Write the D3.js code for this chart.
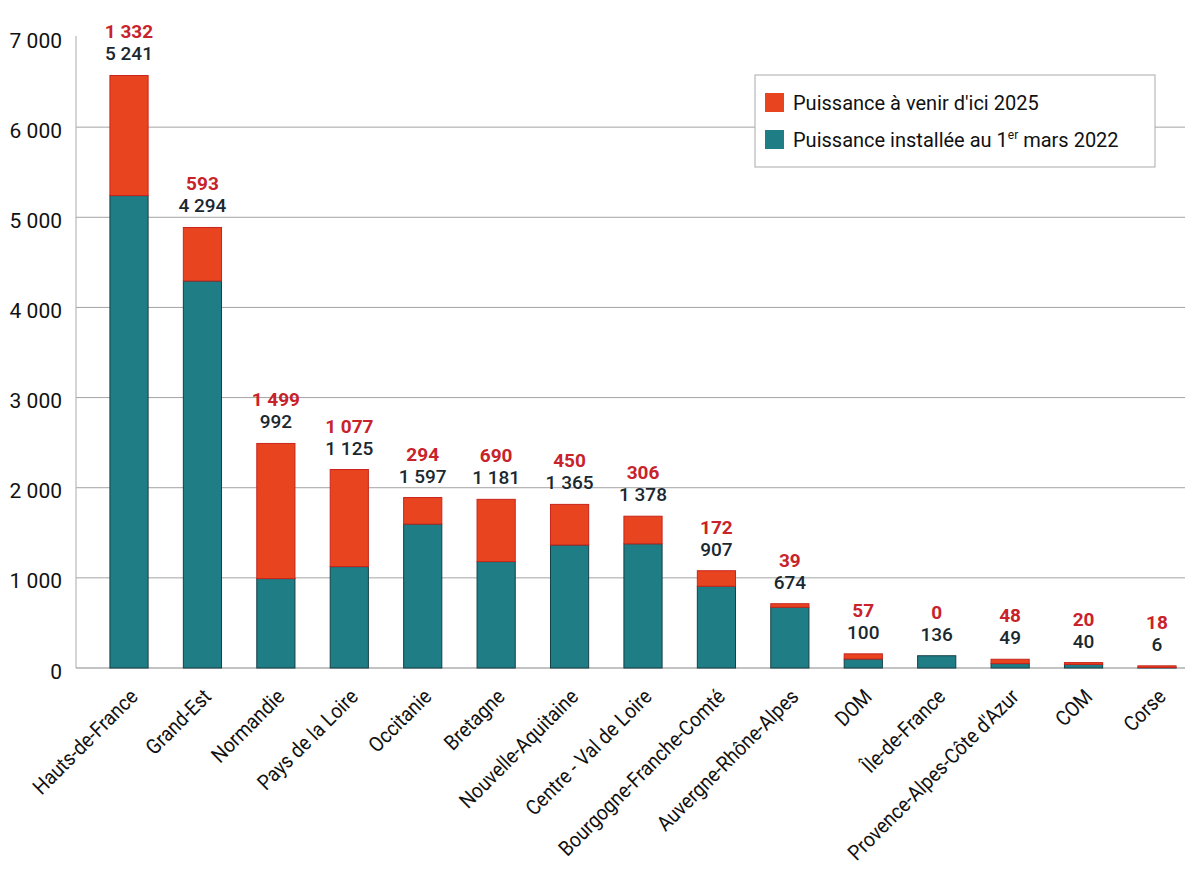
<!DOCTYPE html>
<html>
<head>
<meta charset="utf-8">
<script src="https://cdn.jsdelivr.net/npm/d3@7"></script>
<style>
  body { margin: 0; background: #fff; }
  svg text { font-family: Roboto, "Noto Sans", sans-serif; }
</style>
</head>
<body>
<div id="chart"></div>
<script>
// Data
const regions = ["Hauts-de-France", "Grand-Est", "Normandie", "Pays de la Loire", "Occitanie",
  "Bretagne", "Nouvelle-Aquitaine", "Centre - Val de Loire", "Bourgogne-Franche-Comté",
  "Auvergne-Rhône-Alpes", "DOM", "Île-de-France", "Provence-Alpes-Côte d'Azur", "COM", "Corse"];
const installed = [5241, 4294, 992, 1125, 1597, 1181, 1365, 1378, 907, 674, 100, 136, 49, 40, 6];
const upcoming = [1332, 593, 1499, 1077, 294, 690, 450, 306, 172, 39, 57, 0, 48, 20, 18];
const yTicks = [0, 1000, 2000, 3000, 4000, 5000, 6000, 7000];
const legendLabels = ["Puissance à venir d'ici 2025", "Puissance installée au 1", "er", " mars 2022"];

const width = 1185, height = 870;
const colRed = "#e8441f", colTeal = "#1f7d85";

const svg = d3.select("#chart").append("svg")
  .attr("width", width)
  .attr("height", height);

const fr = d3.formatLocale({ decimal: ",", thousands: "\u00a0", grouping: [3], currency: ["", " €"] });
const fmt = fr.format(",d");

// Scales
const x = d3.scaleBand()
  .domain(regions)
  .range([92.3, 1193.7])
  .paddingInner(0.48)
  .paddingOuter(0.24);

const y = d3.scaleLinear()
  .domain([0, 7000])
  .range([668, 37]);

// Gridlines
svg.append("g")
  .selectAll("line")
  .data(yTicks.filter(d => d > 0 && d < 7000))
  .enter()
  .append("line")
  .attr("x1", 76).attr("x2", width)
  .attr("y1", d => y(d)).attr("y2", d => y(d))
  .attr("stroke", "#a4a4a4")
  .attr("stroke-width", 1);

// Axis lines
svg.append("line")
  .attr("x1", 76).attr("x2", width)
  .attr("y1", y(0)).attr("y2", y(0))
  .attr("stroke", "#888").attr("stroke-width", 1.2);
svg.append("line")
  .attr("x1", 76).attr("x2", 76)
  .attr("y1", 36).attr("y2", y(0))
  .attr("stroke", "#aaa").attr("stroke-width", 1);

// Y tick labels
svg.append("g")
  .selectAll("text")
  .data(yTicks)
  .enter()
  .append("text")
  .attr("x", 62)
  .attr("y", d => y(d) + 3)
  .attr("dy", "0.36em")
  .attr("text-anchor", "end")
  .attr("font-size", 21)
  .attr("fill", "#111")
  .text(d => fmt(d));

// Bars
const bars = svg.append("g")
  .selectAll("g")
  .data(regions)
  .enter()
  .append("g");

bars.append("rect")
  .attr("x", d => x(d))
  .attr("width", x.bandwidth())
  .attr("y", (d, i) => y(installed[i]))
  .attr("height", (d, i) => y(0) - y(installed[i]))
  .attr("fill", colTeal)
  .attr("stroke", "#163f47")
  .attr("stroke-width", 1);

bars.append("rect")
  .attr("x", d => x(d))
  .attr("width", x.bandwidth())
  .attr("y", (d, i) => y(installed[i] + upcoming[i]))
  .attr("height", (d, i) => y(installed[i]) - y(installed[i] + upcoming[i]))
  .attr("fill", colRed)
  .attr("stroke", "#c8251c")
  .attr("stroke-width", 1);

// Value labels
bars.append("text")
  .attr("x", d => x(d) + x.bandwidth() / 2)
  .attr("y", (d, i) => y(installed[i] + upcoming[i]) - 15)
  .attr("text-anchor", "middle")
  .attr("font-size", 19)
  .attr("font-weight", 500)
  .attr("fill", "#1a2830")
  .text((d, i) => fmt(installed[i]));

bars.append("text")
  .attr("x", d => x(d) + x.bandwidth() / 2)
  .attr("y", (d, i) => y(installed[i] + upcoming[i]) - 37)
  .attr("text-anchor", "middle")
  .attr("font-size", 19)
  .attr("font-weight", 700)
  .attr("fill", "#c8232b")
  .text((d, i) => fmt(upcoming[i]));

// Category labels (slightly condensed like the original font)
svg.append("g")
  .selectAll("text")
  .data(regions)
  .enter()
  .append("text")
  .attr("transform", d => `translate(${x(d) + x.bandwidth() / 2 + 10},${y(0) + 30}) rotate(-45) scale(0.9,1)`)
  .attr("text-anchor", "end")
  .attr("font-size", 21)
  .attr("fill", "#111")
  .text(d => d);

// Legend
const legend = svg.append("g").attr("transform", "translate(755,75)");
legend.append("rect")
  .attr("width", 400).attr("height", 92)
  .attr("fill", "#fff")
  .attr("stroke", "#aaa").attr("stroke-width", 1);

legend.append("rect")
  .attr("x", 10).attr("y", 18).attr("width", 19).attr("height", 19)
  .attr("fill", colRed);
legend.append("rect")
  .attr("x", 10).attr("y", 55).attr("width", 19).attr("height", 19)
  .attr("fill", colTeal);

legend.append("text")
  .attr("x", 38).attr("y", 35)
  .attr("font-size", 20).attr("fill", "#111")
  .text(legendLabels[0]);

const t2 = legend.append("text")
  .attr("x", 38).attr("y", 72)
  .attr("font-size", 20).attr("fill", "#111");
t2.append("tspan").text(legendLabels[1]);
t2.append("tspan").attr("dy", -8).attr("font-size", 12).text(legendLabels[2]);
t2.append("tspan").attr("dy", 8).text(legendLabels[3]);
</script>
</body>
</html>
